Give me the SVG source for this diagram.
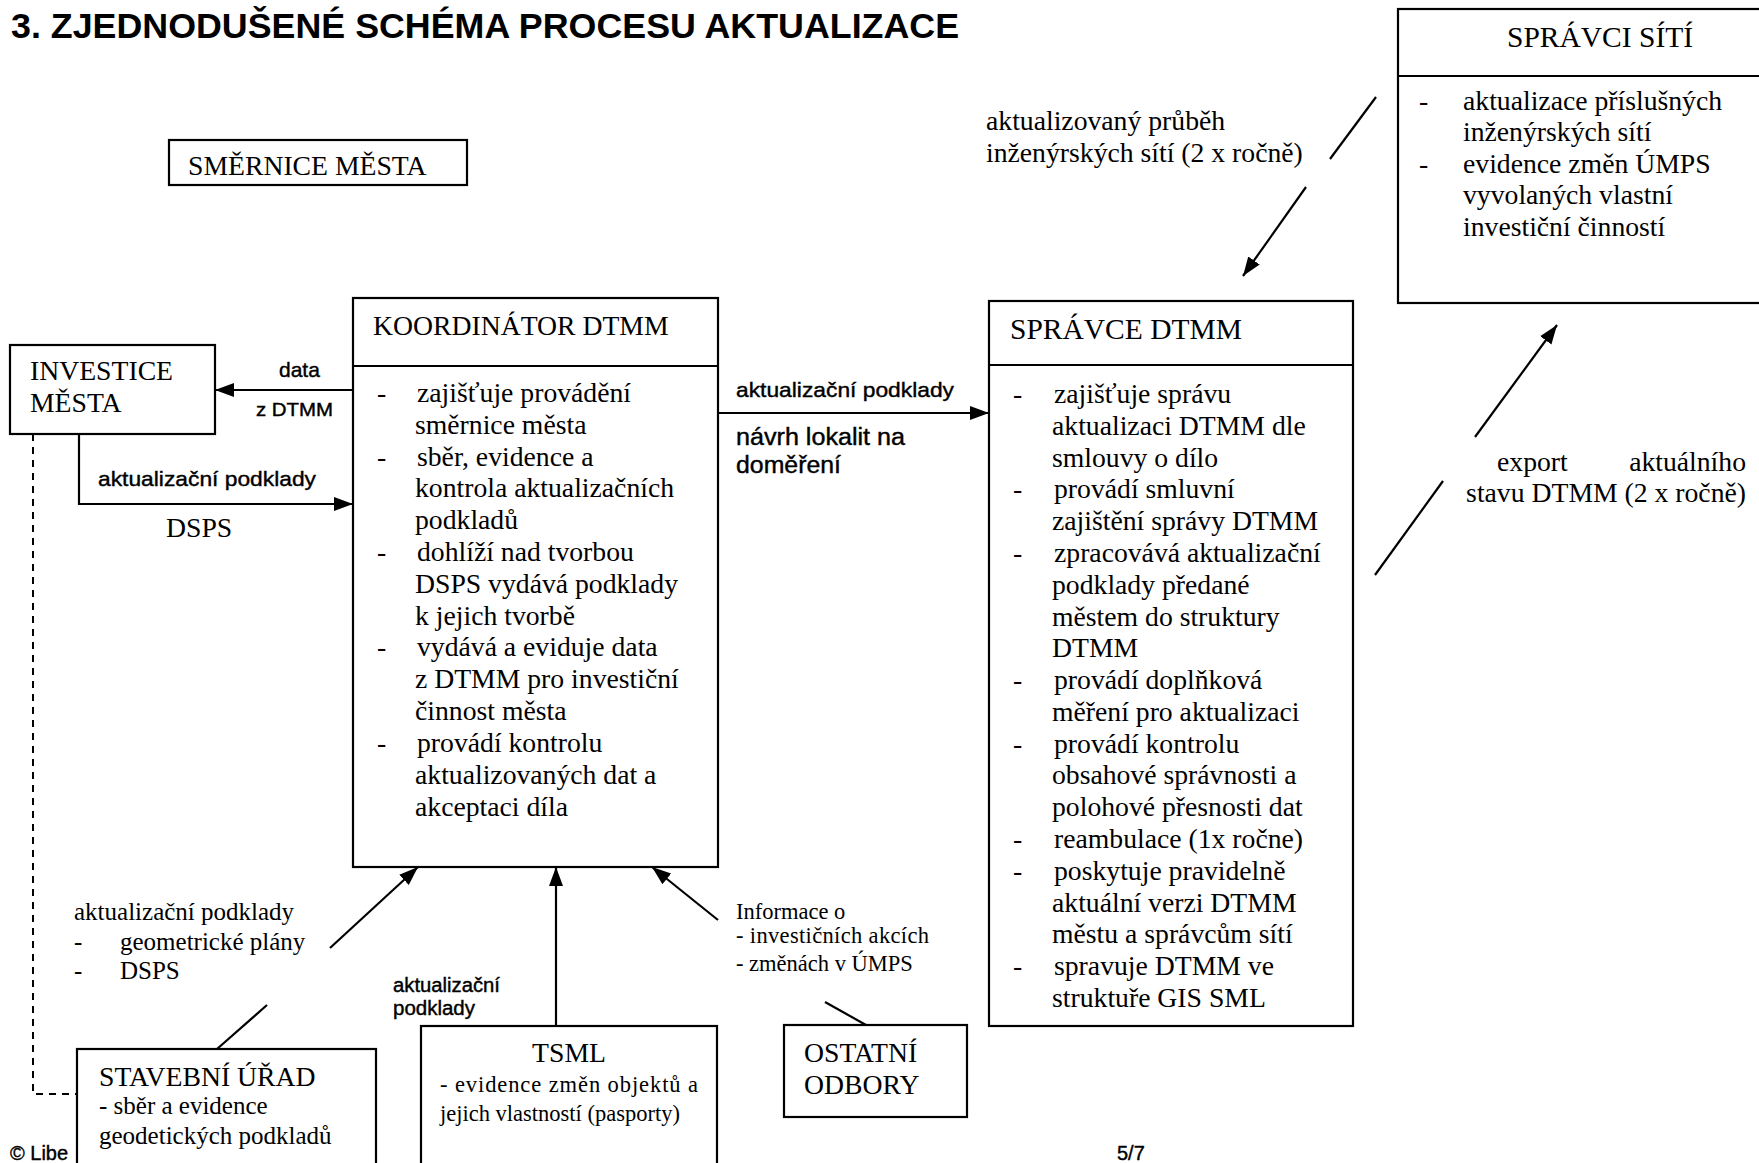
<svg xmlns="http://www.w3.org/2000/svg" width="1759" height="1163" viewBox="0 0 1759 1163">
<style>
  .box{fill:#fff;stroke:#000;stroke-width:2.2}
  .ln{fill:none;stroke:#000;stroke-width:2.2}
  .dash{fill:none;stroke:#000;stroke-width:2;stroke-dasharray:7 6}
  .serif{font-family:"Liberation Serif","Times New Roman",serif;fill:#000}
  .sans{font-family:"Liberation Sans",Arial,sans-serif;fill:#000;stroke:#000;stroke-width:0.4}
  .t28{font-size:27.7px}
  .t30{font-size:29.5px}
  .t25{font-size:25px}
  .t23{font-size:22.5px}
  .s21{font-size:21px}
  .s19{font-size:19.5px}
</style>
<defs>
  <marker id="ah" markerUnits="userSpaceOnUse" markerWidth="22" markerHeight="16" refX="19" refY="8" orient="auto">
    <path d="M0,1 L19,8 L0,15 Z" fill="#000"/>
  </marker>
</defs>
<rect width="1759" height="1163" fill="#fff"/>

<text x="11" y="38" font-family="Liberation Sans, Arial, sans-serif" font-size="35.8" font-weight="bold">3. ZJEDNODUŠENÉ SCHÉMA PROCESU AKTUALIZACE</text>

<g id="smernice">
  <rect class="box" x="169" y="140" width="298" height="45"/>
  <text class="serif t28" x="188" y="175">SMĚRNICE MĚSTA</text>
</g>

<g id="spravci-siti">
  <rect class="box" x="1398" y="9" width="380" height="294"/>
  <line class="ln" x1="1398" y1="76" x2="1778" y2="76"/>
  <text class="serif t30" x="1507" y="47">SPRÁVCI SÍTÍ</text>
  <g class="serif t28">
    <text x="1419" y="110">-</text><text x="1463" y="110">aktualizace příslušných</text>
    <text x="1463" y="141">inženýrských sítí</text>
    <text x="1419" y="173">-</text><text x="1463" y="173">evidence změn ÚMPS</text>
    <text x="1463" y="204">vyvolaných vlastní</text>
    <text x="1463" y="236">investiční činností</text>
  </g>
</g>

<g id="investice">
  <rect class="box" x="10" y="345" width="205" height="89"/>
  <text class="serif t28" x="30" y="380">INVESTICE</text>
  <text class="serif t28" x="30" y="412">MĚSTA</text>
</g>

<g id="koordinator">
  <rect class="box" x="353" y="298" width="365" height="569"/>
  <line class="ln" x1="353" y1="366" x2="718" y2="366"/>
  <text class="serif t28" x="373" y="335">KOORDINÁTOR DTMM</text>
  <g class="serif t28">
    <text x="377" y="402">-</text><text x="417" y="402">zajišťuje provádění</text>
    <text x="415" y="434">směrnice města</text>
    <text x="377" y="466">-</text><text x="417" y="466">sběr, evidence  a</text>
    <text x="415" y="497">kontrola aktualizačních</text>
    <text x="415" y="529">podkladů</text>
    <text x="377" y="561">-</text><text x="417" y="561">dohlíží nad tvorbou</text>
    <text x="415" y="593">DSPS vydává podklady</text>
    <text x="415" y="625">k jejich tvorbě</text>
    <text x="377" y="656">-</text><text x="417" y="656">vydává a eviduje data</text>
    <text x="415" y="688">z DTMM pro investiční</text>
    <text x="415" y="720">činnost města</text>
    <text x="377" y="752">-</text><text x="417" y="752">provádí kontrolu</text>
    <text x="415" y="784">aktualizovaných dat a</text>
    <text x="415" y="816">akceptaci díla</text>
  </g>
</g>

<g id="spravce">
  <rect class="box" x="989" y="301" width="364" height="725"/>
  <line class="ln" x1="989" y1="365" x2="1353" y2="365"/>
  <text class="serif t30" x="1010" y="339">SPRÁVCE DTMM</text>
  <g class="serif t28">
    <text x="1013" y="403">-</text><text x="1054" y="403">zajišťuje správu</text>
    <text x="1052" y="435">aktualizaci DTMM dle</text>
    <text x="1052" y="467">smlouvy o dílo</text>
    <text x="1013" y="498">-</text><text x="1054" y="498">provádí smluvní</text>
    <text x="1052" y="530">zajištění správy DTMM</text>
    <text x="1013" y="562">-</text><text x="1054" y="562">zpracovává aktualizační</text>
    <text x="1052" y="594">podklady předané</text>
    <text x="1052" y="626">městem do struktury</text>
    <text x="1052" y="657">DTMM</text>
    <text x="1013" y="689">-</text><text x="1054" y="689">provádí doplňková</text>
    <text x="1052" y="721">měření pro aktualizaci</text>
    <text x="1013" y="753">-</text><text x="1054" y="753">provádí kontrolu</text>
    <text x="1052" y="784">obsahové správnosti a</text>
    <text x="1052" y="816">polohové přesnosti dat</text>
    <text x="1013" y="848">-</text><text x="1054" y="848">reambulace (1x ročne)</text>
    <text x="1013" y="880">-</text><text x="1054" y="880">poskytuje pravidelně</text>
    <text x="1052" y="912">aktuální verzi DTMM</text>
    <text x="1052" y="943">městu a správcům sítí</text>
    <text x="1013" y="975">-</text><text x="1054" y="975">spravuje DTMM ve</text>
    <text x="1052" y="1007">struktuře GIS SML</text>
  </g>
</g>

<g id="stavebni-urad">
  <rect class="box" x="77" y="1049" width="299" height="130"/>
  <text class="serif t28" x="99" y="1086">STAVEBNÍ ÚŘAD</text>
  <text class="serif t25" x="99" y="1114">- sběr a evidence</text>
  <text class="serif t25" x="99" y="1144">geodetických podkladů</text>
</g>

<g id="tsml">
  <rect class="box" x="421" y="1026" width="296" height="150"/>
  <text class="serif t28" x="569" y="1062" text-anchor="middle">TSML</text>
  <text class="serif t23" x="440" y="1092" textLength="258" lengthAdjust="spacing">- evidence změn objektů a</text>
  <text class="serif t23" x="440" y="1121">jejich vlastností (pasporty)</text>
</g>

<g id="ostatni-odbory">
  <rect class="box" x="784" y="1025" width="183" height="92"/>
  <text class="serif t28" x="804" y="1062">OSTATNÍ</text>
  <text class="serif t28" x="804" y="1094">ODBORY</text>
</g>

<g id="connectors">
  <line class="ln" x1="353" y1="390" x2="215" y2="390" marker-end="url(#ah)"/>
  <polyline class="ln" points="79,434 79,504 353,504" marker-end="url(#ah)"/>
  <line class="ln" x1="718" y1="413" x2="989" y2="413" marker-end="url(#ah)"/>
  <polyline class="dash" points="33,434 33,1094 77,1094"/>
  <line class="ln" x1="217" y1="1049" x2="267" y2="1005"/>
  <line class="ln" x1="330" y1="948" x2="418" y2="867" marker-end="url(#ah)"/>
  <line class="ln" x1="556" y1="1026" x2="556" y2="867" marker-end="url(#ah)"/>
  <line class="ln" x1="866" y1="1025" x2="825" y2="1002"/>
  <line class="ln" x1="718" y1="920" x2="652" y2="867" marker-end="url(#ah)"/>
  <line class="ln" x1="1376" y1="97" x2="1330" y2="159"/>
  <line class="ln" x1="1306" y1="187" x2="1243" y2="276" marker-end="url(#ah)"/>
  <line class="ln" x1="1475" y1="437" x2="1557" y2="325" marker-end="url(#ah)"/>
  <line class="ln" x1="1443" y1="481" x2="1375" y2="575"/>
</g>

<g id="labels">
  <text class="sans s21" x="279" y="377">data</text>
  <text class="sans" x="256" y="416" font-size="18" textLength="77" lengthAdjust="spacingAndGlyphs">z DTMM</text>
  <text class="sans s21" x="98" y="486" textLength="218" lengthAdjust="spacingAndGlyphs">aktualizační podklady</text>
  <text class="serif t28" x="166" y="537">DSPS</text>
  <text class="sans s21" x="736" y="397" textLength="218" lengthAdjust="spacingAndGlyphs">aktualizační podklady</text>
  <text class="sans" x="736" y="445" font-size="23" textLength="169" lengthAdjust="spacingAndGlyphs">návrh lokalit na</text>
  <text class="sans" x="736" y="473" font-size="23" textLength="105" lengthAdjust="spacingAndGlyphs">doměření</text>
  <text class="serif t28" x="986" y="130">aktualizovaný průběh</text>
  <text class="serif t28" x="986" y="162">inženýrských sítí (2 x ročně)</text>
  <text class="serif t28" x="1497" y="471">export</text>
  <text class="serif t28" x="1746" y="471" text-anchor="end">aktuálního</text>
  <text class="serif t28" x="1746" y="502" text-anchor="end">stavu DTMM (2 x ročně)</text>
  <text class="serif t25" x="74" y="920">aktualizační podklady</text>
  <text class="serif t25" x="74" y="950">-</text><text class="serif t25" x="120" y="950">geometrické plány</text>
  <text class="serif t25" x="74" y="979">-</text><text class="serif t25" x="120" y="979">DSPS</text>
  <text class="sans s19" x="393" y="992" textLength="107" lengthAdjust="spacingAndGlyphs">aktualizační</text>
  <text class="sans s19" x="393" y="1015" textLength="82" lengthAdjust="spacingAndGlyphs">podklady</text>
  <text class="serif t23" x="736" y="919">Informace o</text>
  <text class="serif t23" x="736" y="943" textLength="193" lengthAdjust="spacing">-  investičních akcích</text>
  <text class="serif t23" x="736" y="971">-  změnách v ÚMPS</text>
  <text class="sans" x="10" y="1160" font-size="20">© Libe</text>
  <text class="sans" x="1117" y="1160" font-size="20">5/7</text>
</g>
</svg>
